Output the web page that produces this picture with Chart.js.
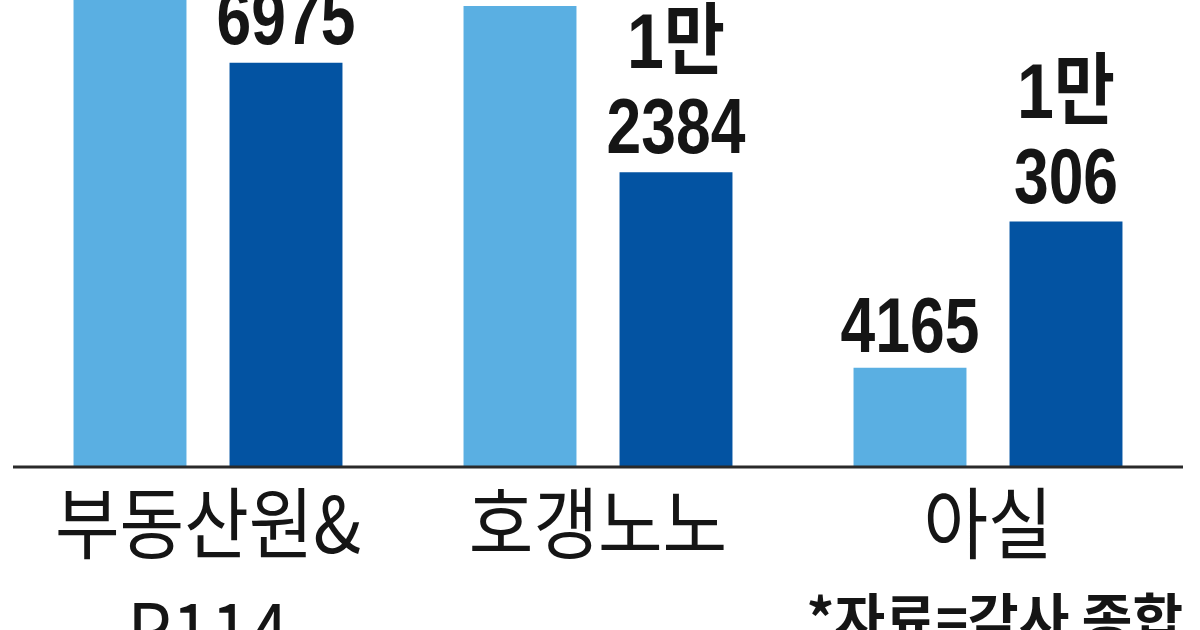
<!DOCTYPE html>
<html>
<head>
<meta charset="utf-8">
<script src="https://cdn.jsdelivr.net/npm/chart.js@4/dist/chart.umd.min.js"></script>
<style>
  html, body { margin: 0; padding: 0; background: #fff; }
  #wrap { width: 1200px; height: 630px; overflow: hidden; }
</style>
</head>
<body>
<div id="wrap"><canvas id="chart" width="1200" height="630"></canvas></div>
<script>
// --- Data ---
const categories = [['부동산원&', 'R114'], ['호갱노노'], ['아실']];
const lightValues = [21500, 19360, 4165];
const darkValues = [16975, 12384, 10306];
const yMax = 19614;
const footnote = '*자료=각사 종합';

const LIGHT = '#5aafe2';
const DARK = '#0353a2';
const NUM_FONT = 'bold 78px "Liberation Sans", "Noto Sans CJK KR", sans-serif';
const CAT_FONT = '78px "Noto Sans CJK KR", sans-serif';

function fmtLines(v) {
  if (v >= 10000) return [Math.floor(v / 10000) + '만', String(v % 10000)];
  return [String(v)];
}

function squeezeText(ctx, text, x, y, sx) {
  ctx.save();
  ctx.translate(x, y);
  ctx.scale(sx, 1);
  ctx.fillText(text, 0, 0);
  ctx.restore();
}

// axis line, value labels, category labels, footnote
const decoPlugin = {
  id: 'deco',
  afterDatasetsDraw(chart) {
    const { ctx, chartArea } = chart;
    ctx.save();
    ctx.strokeStyle = '#2a2a2a';
    ctx.lineWidth = 3;
    ctx.beginPath();
    ctx.moveTo(chartArea.left, chartArea.bottom);
    ctx.lineTo(chartArea.right, chartArea.bottom);
    ctx.stroke();

    ctx.fillStyle = '#151515';
    ctx.textAlign = 'center';
    ctx.textBaseline = 'alphabetic';
    ctx.font = NUM_FONT;
    chart.data.datasets.forEach((ds, di) => {
      const meta = chart.getDatasetMeta(di);
      meta.data.forEach((bar, i) => {
        const lines = fmtLines(ds.data[i]);
        if (lines.length === 2) {
          squeezeText(ctx, lines[0], bar.x, bar.y - 104, 0.85);
          squeezeText(ctx, lines[1], bar.x, bar.y - 19, 0.8);
        } else {
          squeezeText(ctx, lines[0], bar.x, bar.y - 16, 0.8);
        }
      });
    });

    const xs = chart.scales.x;
    ctx.font = CAT_FONT;
    categories.forEach((lab, i) => {
      const cx = xs.getPixelForValue(i);
      lab.forEach((line, li) => {
        squeezeText(ctx, line, cx, chartArea.bottom + 86 + li * 107, 0.9);
      });
    });

    ctx.font = 'bold 55px "Noto Sans CJK KR", sans-serif';
    ctx.textAlign = 'right';
    ctx.fillText(footnote, chartArea.right, chartArea.bottom + 172);
    ctx.restore();
  }
};

new Chart(document.getElementById('chart'), {
  type: 'bar',
  data: {
    labels: categories.map(c => c.join(' ')),
    datasets: [
      { data: lightValues, backgroundColor: LIGHT, categoryPercentage: 0.8, barPercentage: 0.724 },
      { data: darkValues, backgroundColor: DARK, categoryPercentage: 0.8, barPercentage: 0.724 }
    ]
  },
  options: {
    responsive: false,
    animation: false,
    devicePixelRatio: 1,
    layout: { padding: { left: 13, right: 17, top: 0, bottom: 163 } },
    plugins: { legend: { display: false }, tooltip: { enabled: false } },
    scales: {
      x: { display: false },
      y: { display: false, min: 0, max: yMax }
    }
  },
  plugins: [decoPlugin]
});
</script>
</body>
</html>
